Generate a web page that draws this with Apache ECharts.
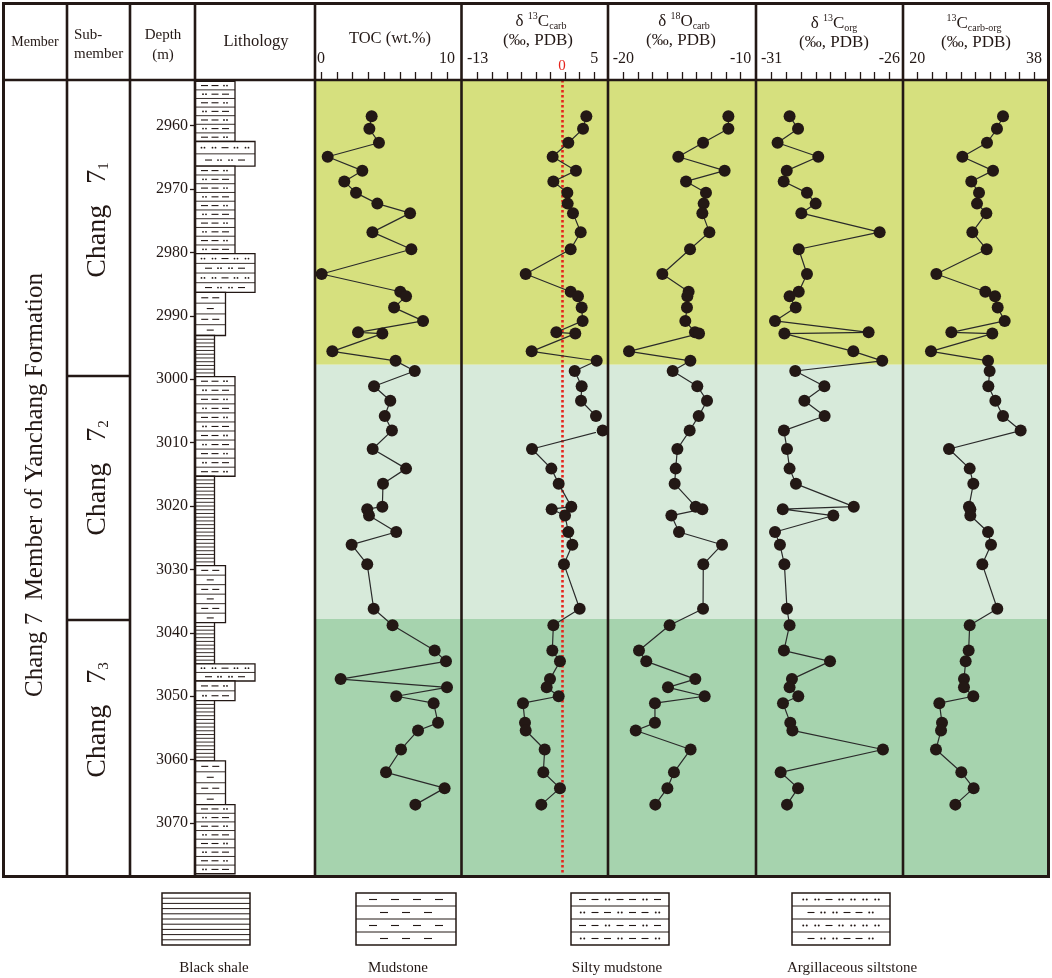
<!DOCTYPE html>
<html><head><meta charset="utf-8">
<script src="https://cdn.jsdelivr.net/npm/echarts@6/dist/echarts.min.js"></script>
<style>html,body{margin:0;padding:0;background:#fff}#c{width:1052px;height:978px}</style>
</head><body><div id="c"></div>
<script>
// ---------------- data ----------------
const depth = [2958.5, 2960.5, 2962.7, 2964.9, 2967.1, 2968.8, 2970.6, 2972.3, 2973.8, 2976.8, 2979.5, 2983.4, 2986.2, 2986.9, 2988.7, 2990.8, 2992.6, 2992.8, 2995.6, 2997.1, 2998.7, 3001.1, 3003.4, 3005.8, 3008.1, 3011.0, 3014.1, 3016.5, 3020.1, 3020.5, 3021.5, 3024.1, 3026.1, 3029.2, 3036.2, 3038.8, 3042.8, 3044.5, 3047.3, 3048.6, 3050.0, 3051.1, 3054.2, 3055.4, 3058.4, 3062.0, 3064.5, 3067.1];
const toc = [4.02, 3.84, 4.60, 0.53, 3.28, 1.85, 2.78, 4.47, 7.07, 4.08, 7.17, 0.05, 6.29, 6.75, 5.80, 8.10, 2.94, 4.87, 0.90, 5.92, 7.44, 4.21, 5.50, 5.06, 5.63, 4.10, 6.75, 4.92, 4.87, 3.67, 3.81, 5.97, 2.43, 3.67, 4.18, 5.68, 9.02, 9.92, 1.56, 10.0, 5.97, 8.94, 9.29, 7.70, 6.35, 5.16, 9.81, 7.49];
const d13Ccarb = [3.77, 3.26, 0.99, -1.43, 2.17, -1.32, 0.84, 0.89, 1.71, 2.90, 1.35, -5.59, 1.35, 2.48, 3.05, 3.20, -0.86, 2.07, -4.67, 5.37, 1.97, 3.05, 2.95, 5.26, 6.29, -4.62, -1.63, -0.50, 1.45, -1.58, 0.48, 0.99, 1.61, 0.32, 2.74, -1.32, -1.48, -0.30, -1.84, -2.35, -0.50, -6.01, -5.70, -5.59, -2.66, -2.87, -0.30, -3.18];
const d18Ocarb = [-11.05, -11.05, -13.21, -15.32, -11.37, -14.66, -12.96, -13.16, -13.27, -12.67, -14.32, -16.68, -14.44, -14.55, -14.58, -14.72, -13.90, -13.55, -19.52, -14.29, -15.80, -13.70, -12.87, -13.58, -14.35, -15.40, -15.54, -15.63, -13.84, -13.27, -15.91, -15.26, -11.59, -13.19, -13.21, -16.06, -18.67, -18.05, -13.87, -16.20, -13.07, -17.31, -17.31, -18.95, -14.27, -15.69, -16.25, -17.28];
const d13Corg = [-30.24, -29.88, -30.75, -29.02, -30.36, -30.49, -29.50, -29.13, -29.74, -26.41, -29.85, -29.50, -29.85, -30.24, -29.98, -30.86, -26.88, -30.46, -27.53, -26.30, -30.00, -28.76, -29.61, -28.75, -30.48, -30.35, -30.24, -29.97, -27.51, -30.53, -28.38, -30.86, -30.65, -30.46, -30.35, -30.24, -30.48, -28.52, -30.14, -30.24, -29.87, -30.52, -30.21, -30.12, -26.27, -30.62, -29.88, -30.35];
const d13CcarbOrg = [33.22, 32.29, 30.75, 26.95, 31.68, 28.33, 29.52, 29.21, 30.65, 28.49, 30.70, 22.94, 30.49, 31.99, 32.40, 33.48, 25.25, 31.57, 22.11, 30.91, 31.16, 30.96, 32.04, 33.22, 35.94, 24.89, 28.08, 28.64, 27.97, 28.18, 28.18, 30.91, 31.37, 30.03, 32.34, 28.08, 27.92, 27.46, 27.20, 27.20, 28.64, 23.40, 23.81, 23.66, 22.88, 26.79, 28.69, 25.87];

const depthTicks = [2960, 2970, 2980, 2990, 3000, 3010, 3020, 3030, 3040, 3050, 3060, 3070];
const depthRange = [2952.8, 3078.2];
const tocLabels = [0, 10];
const d13CcarbLabels = [-13, 5];
const d18OcarbLabels = [-20, -10];
const d13CorgLabels = [-31, -26];
const d13CcarbOrgLabels = [20, 38];
const zeroLine = 0;

// lithology intervals (0 black shale, 1 mudstone, 2 silty mudstone, 3 argillaceous siltstone)
const litTop    = [2953.0, 2962.5, 2966.4, 2980.2, 2986.3, 2993.1, 2999.6, 3015.3, 3029.4, 3038.4, 3044.9, 3047.6, 3050.7, 3060.2, 3067.1];
const litBottom = [2962.5, 2966.4, 2980.2, 2986.3, 2993.1, 2999.6, 3015.3, 3029.4, 3038.4, 3044.9, 3047.6, 3050.7, 3060.2, 3067.1, 3078.0];
const litType   = [2, 3, 2, 3, 1, 0, 2, 0, 1, 0, 3, 2, 0, 1, 2];
const litNames  = ['Black shale', 'Mudstone', 'Silty mudstone', 'Argillaceous siltstone'];

// sub-member zones
const zoneTop    = [2952.8, 2997.7, 3037.8];
const zoneBottom = [2997.7, 3037.8, 3078.2];
const zoneSub    = ['1', '2', '3'];

// ---------------- styles ----------------
const FONT = 'Liberation Serif';
const INK = '#231815';
const ZONE_COLORS = ['#d6e07e', '#d7eada', '#a6d3ae'];
const LIT_KEYS = ['bs', 'md', 'sm', 'as'];
const LIT_WIDTH = {bs: 19.5, md: 30.5, sm: 40, as: 60};
const COL_OPTS = {
  bs: {gap: 3.7, border: 1.3, thin: 0.9},
  md: {rowH: 10.2, rows: ['dd', 'd'], s: 11, dash: 7, r: 0.9, dotGap: 3, border: 1.3, thin: 0.9},
  sm: {rowH: 8.8, rows: ['ddo', 'odd'], s: 10.5, dash: 7, r: 0.9, dotGap: 3, border: 1.3, thin: 0.9},
  as: {rowH: 10.5, rows: ['oodoo', 'dood'], s: 11, dash: 7, r: 0.9, dotGap: 3, border: 1.3, thin: 0.9}
};
const LEG_OPTS = {
  bs: {gap: 5.2, border: 1.5, thin: 1},
  md: {rowH: 13, rows: ['d', 'd'], k: [4, 3], s: 22, dash: 8, r: 1, dotGap: 3.5, border: 1.5, thin: 1},
  sm: {rowH: 13, rows: ['ddo', 'odd'], k: [7, 7], s: 12.5, dash: 7, r: 1, dotGap: 3.5, border: 1.5, thin: 1},
  as: {rowH: 13, rows: ['oodoo', 'dood'], k: [7, 6], s: 12, dash: 7, r: 1, dotGap: 3.5, border: 1.5, thin: 1}
};

function patternEls(type, x, y, w, h, o) {
  const els = [{type: 'rect', shape: {x: x, y: y, width: w, height: h}, style: {fill: '#fff', stroke: INK, lineWidth: o.border}}];
  if (type === 'bs') {
    const n = Math.max(1, Math.round(h / o.gap));
    for (let i = 1; i < n; i++) {
      const yy = y + h * i / n;
      els.push({type: 'line', shape: {x1: x, y1: yy, x2: x + w, y2: yy}, style: {stroke: INK, lineWidth: o.thin}});
    }
    return els;
  }
  const n = Math.max(1, Math.round(h / o.rowH));
  const rh = h / n;
  for (let i = 0; i < n; i++) {
    const ry = y + rh * i;
    if (i > 0) els.push({type: 'line', shape: {x1: x, y1: ry, x2: x + w, y2: ry}, style: {stroke: INK, lineWidth: o.thin}});
    const pat = o.rows[i % 2];
    const k = o.k ? o.k[i % 2] : pat.length;
    const cy = ry + rh / 2;
    for (let j = 0; j < k; j++) {
      const cx = x + w / 2 + (j - (k - 1) / 2) * o.s;
      const t = pat[j % pat.length];
      if (t === 'd') {
        els.push({type: 'line', shape: {x1: cx - o.dash / 2, y1: cy, x2: cx + o.dash / 2, y2: cy}, style: {stroke: INK, lineWidth: 1.1}});
      } else {
        els.push({type: 'circle', shape: {cx: cx - o.dotGap / 2, cy: cy, r: o.r}, style: {fill: INK}});
        els.push({type: 'circle', shape: {cx: cx + o.dotGap / 2, cy: cy, r: o.r}, style: {fill: INK}});
      }
    }
  }
  return els;
}

// ---------------- layout ----------------
const TOP = 80, H = 795;
const panels = [
  {left: 321, width: 126, range: tocLabels, vals: toc},
  {left: 477.7, width: 116.6, range: d13CcarbLabels, vals: d13Ccarb},
  {left: 623.4, width: 117.3, range: d18OcarbLabels, vals: d18Ocarb},
  {left: 771.7, width: 117.6, range: d13CorgLabels, vals: d13Corg},
  {left: 917.3, width: 116.7, range: d13CcarbOrgLabels, vals: d13CcarbOrg}
];

const grids = [
  {left: 315, top: TOP, width: 733, height: H},
  {left: 195, top: TOP, width: 120, height: H}
];
const xAxes = [
  {gridIndex: 0, type: 'value', min: 0, max: 1, show: false},
  {gridIndex: 1, type: 'value', min: 0, max: 120, show: false}
];
const yAxes = [
  {gridIndex: 0, type: 'value', inverse: true, min: depthRange[0], max: depthRange[1], show: false},
  {gridIndex: 1, type: 'value', inverse: true, min: depthRange[0], max: depthRange[1], position: 'left',
   axisLine: {show: false}, splitLine: {show: false},
   axisTick: {show: true, length: 5, customValues: depthTicks, lineStyle: {color: INK, width: 1.3}},
   axisLabel: {show: true, customValues: depthTicks, margin: 7, fontFamily: FONT, fontSize: 16, color: INK,
               formatter: function (v) { return String(Math.round(v)); }}}
];
const series = [
  {type: 'custom', xAxisIndex: 0, yAxisIndex: 0, silent: true, z: 0, animation: false,
   data: zoneTop.map((t, i) => [t, zoneBottom[i], i]),
   renderItem: function (p, api) {
     const a = api.coord([0, api.value(0)]);
     const b = api.coord([1, api.value(1)]);
     return {type: 'rect', shape: {x: a[0], y: a[1], width: b[0] - a[0], height: b[1] - a[1]}, style: {fill: ZONE_COLORS[api.value(2)]}};
   }},
  {type: 'custom', xAxisIndex: 1, yAxisIndex: 1, silent: true, z: 3, animation: false,
   data: litTop.map((t, i) => [t, litBottom[i], litType[i]]),
   renderItem: function (p, api) {
     const key = LIT_KEYS[api.value(2)];
     const a = api.coord([0, api.value(0)]);
     const b = api.coord([LIT_WIDTH[key], api.value(1)]);
     return {type: 'group', children: patternEls(key, a[0], a[1], b[0] - a[0], b[1] - a[1], COL_OPTS[key])};
   }}
];

panels.forEach((pn, i) => {
  const gi = i + 2;
  grids.push({left: pn.left, top: TOP, width: pn.width, height: H});
  const mn = pn.range[0], mx = pn.range[1];
  const ticks = [];
  for (let k = 0; k <= 8; k++) ticks.push(mn + (mx - mn) * k / 8);
  xAxes.push({gridIndex: gi, type: 'value', position: 'top', min: mn, max: mx,
    axisLine: {show: false}, splitLine: {show: false},
    axisTick: {show: true, inside: false, length: 8, customValues: ticks, lineStyle: {color: INK, width: 1.3}},
    axisLabel: {show: true, customValues: pn.range, margin: 13, fontFamily: FONT, fontSize: 16, color: INK}});
  yAxes.push({gridIndex: gi, type: 'value', inverse: true, min: depthRange[0], max: depthRange[1], show: false});
  const s = {type: 'line', xAxisIndex: gi, yAxisIndex: gi, clip: false, animation: false, z: 5,
    data: depth.map((d, k) => [pn.vals[k], d]),
    symbol: 'circle', symbolSize: 12, itemStyle: {color: INK},
    lineStyle: {color: '#2a2a2a', width: 1.2}};
  if (i === 1) {
    s.markLine = {silent: true, symbol: ['none', 'none'], animation: false, z: 4,
      lineStyle: {color: '#e6231c', width: 2.6, type: [2.6, 2.4]},
      label: {show: true, position: 'start', formatter: '0', color: '#e6231c', fontSize: 15, fontFamily: FONT, distance: 6},
      data: [{xAxis: zeroLine}]};
  }
  series.push(s);
});

// ---------------- table frame & texts ----------------
const graphics = [];
function ln(x1, y1, x2, y2, w) {
  graphics.push({type: 'line', silent: true, z: 100, shape: {x1: x1, y1: y1, x2: x2, y2: y2}, style: {stroke: INK, lineWidth: w || 2.6}});
}
[3.5, 67, 130, 195, 315, 461.5, 608, 756, 903, 1048.5].forEach((x, i, arr) => ln(x, 2, x, 877.5, (i === 0 || i === arr.length - 1) ? 3 : 2.6));
ln(2, 3.5, 1050, 3.5, 3);
ln(2, 80, 1050, 80, 2.6);
ln(2, 876.5, 1050, 876.5, 3);
ln(67, 376, 130, 376, 2.6);
ln(67, 620, 130, 620, 2.6);

function txt(x, y, text, size, opts) {
  const o = Object.assign({align: 'center', rotation: 0, rich: null, color: INK}, opts || {});
  const st = {text: text, fontFamily: FONT, fontSize: size, fill: o.color, align: o.align, verticalAlign: 'middle'};
  if (o.rich) st.rich = o.rich;
  graphics.push({type: 'text', silent: true, z: 101, x: x, y: y, rotation: o.rotation, style: st});
}
const RICH = {
  n: {fontFamily: FONT, fontSize: 17, fill: INK},
  sup: {fontFamily: FONT, fontSize: 10, fill: INK, padding: [0, 0, 11, 0]},
  sub: {fontFamily: FONT, fontSize: 10, fill: INK, padding: [9, 0, 0, 0]}
};
txt(35, 42, 'Member', 14);
txt(74, 35, 'Sub-', 15, {align: 'left'});
txt(74, 54, 'member', 15, {align: 'left'});
txt(163, 35, 'Depth', 15);
txt(163, 55, '(m)', 15);
txt(256, 42, 'Lithology', 16.5);
txt(390, 39, 'TOC (wt.%)', 16.5);
txt(541, 22, '{n|δ }{sup|13}{n|C}{sub|carb}', 17, {rich: RICH});
txt(538, 41, '(‰, PDB)', 17);
txt(684, 22, '{n|δ }{sup|18}{n|O}{sub|carb}', 17, {rich: RICH});
txt(681, 41, '(‰, PDB)', 17);
txt(834, 24, '{n|δ }{sup|13}{n|C}{sub|org}', 17, {rich: RICH});
txt(834, 43, '(‰, PDB)', 17);
txt(974, 24, '{sup|13}{n|C}{sub|carb-org}', 17, {rich: RICH});
txt(976, 43, '(‰, PDB)', 17);

// member and sub-member labels
txt(35, 485, 'Chang 7  Member of Yanchang Formation', 25, {rotation: Math.PI / 2});
const SUBRICH = {
  a: {fontFamily: FONT, fontSize: 28, fill: INK},
  s: {fontFamily: FONT, fontSize: 15, fill: INK, padding: [13, 0, 0, 0]}
};
const subY = [220, 478, 720];
zoneSub.forEach((s, i) => txt(98, subY[i], '{a|Chang   7}{s|' + s + '}', 28, {rotation: Math.PI / 2, rich: SUBRICH}));

// lithology legend
const legBoxes = [
  {key: 'bs', x: 162, w: 88, tx: 214},
  {key: 'md', x: 356, w: 100, tx: 398},
  {key: 'sm', x: 571, w: 98, tx: 617},
  {key: 'as', x: 792, w: 98, tx: 852}
];
legBoxes.forEach((b, i) => {
  graphics.push({type: 'group', silent: true, z: 100, children: patternEls(b.key, b.x, 893, b.w, 52, LEG_OPTS[b.key])});
  txt(b.tx, 968, litNames[i], 15);
});

const chart = echarts.init(document.getElementById('c'));
chart.setOption({
  backgroundColor: '#fff',
  animation: false,
  textStyle: {fontFamily: FONT},
  grid: grids,
  xAxis: xAxes,
  yAxis: yAxes,
  series: series,
  graphic: {elements: graphics}
});
</script>
</body></html>
